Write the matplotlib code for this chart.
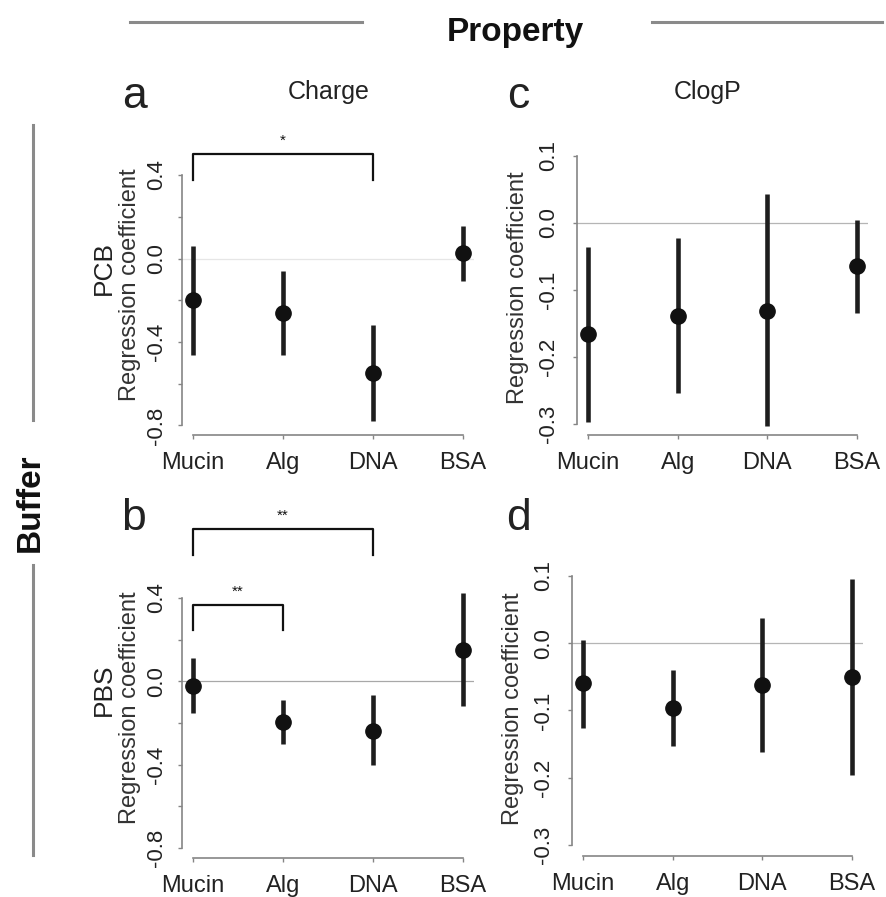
import matplotlib
matplotlib.use("Agg")
import matplotlib.pyplot as plt
import numpy as np

plt.rcParams['font.family'] = ['Liberation Sans', 'DejaVu Sans']
plt.rcParams['axes.unicode_minus'] = False

# ---------------- data ----------------
categories = ['Mucin', 'Alg', 'DNA', 'BSA']

charge_pcb_est = [-0.20, -0.26, -0.55, 0.026]
charge_pcb_lo = [-0.46, -0.46, -0.78, -0.11]
charge_pcb_hi = [0.06, -0.06, -0.32, 0.156]

clogp_pcb_est = [-0.165, -0.138, -0.131, -0.064]
clogp_pcb_lo = [-0.296, -0.253, -0.303, -0.134]
clogp_pcb_hi = [-0.036, -0.022, 0.043, 0.004]

charge_pbs_est = [-0.024, -0.195, -0.238, 0.151]
charge_pbs_lo = [-0.152, -0.30, -0.40, -0.12]
charge_pbs_hi = [0.114, -0.09, -0.067, 0.425]

clogp_pbs_est = [-0.059, -0.097, -0.062, -0.050]
clogp_pbs_lo = [-0.126, -0.152, -0.162, -0.196]
clogp_pbs_hi = [0.004, -0.040, 0.037, 0.095]

charge_ticks = [-0.8, -0.6, -0.4, -0.2, 0.0, 0.2, 0.4]
charge_ticklabels = ['-0.8', '', '-0.4', '', '0.0', '', '0.4']
clogp_ticks = [-0.3, -0.2, -0.1, 0.0, 0.1]
clogp_ticklabels = ['-0.3', '-0.2', '-0.1', '0.0', '0.1']

# brackets: (from index, to index, bar height, leg bottom, stars)
brackets_a = [(0, 2, 0.50, 0.376, '*')]
brackets_b = [(0, 1, 0.367, 0.248, '**'), (0, 2, 0.729, 0.605, '**')]

# ---------------- layout ----------------
W, H = 886, 897
fig = plt.figure(figsize=(W / 100, H / 100), dpi=100)


def rect(l, t, r, b):
    return [l / W, 1 - b / H, (r - l) / W, (b - t) / H]


def P(x, y):
    return (x / W, 1 - y / H)


AX_GREY = '#858585'
TXT = '#222222'


def panel(r, est, lo, hi, ticks, ticklabels, zero_col, ypad, brackets=()):
    ax = fig.add_axes(r)
    x = np.arange(1, len(categories) + 1)
    ax.set_xlim(0.88, 4.12)
    lo_t, hi_t = ticks[0], ticks[-1]
    rng = hi_t - lo_t
    ax.set_ylim(lo_t - 0.04 * rng, hi_t + 0.04 * rng)
    ax.axhline(0, color=zero_col, lw=0.9, zorder=1)
    est = np.array(est)
    yerr = np.vstack([est - np.array(lo), np.array(hi) - est])
    ax.errorbar(x, est, yerr=yerr, fmt='o', color='#111111', ecolor='#1e1e1e',
                elinewidth=3.3, markersize=11, capsize=0, zorder=3)
    for s in ['top', 'right']:
        ax.spines[s].set_visible(False)
    ax.spines['left'].set_bounds(lo_t, hi_t)
    ax.spines['bottom'].set_bounds(1, 4)
    for s in ['left', 'bottom']:
        ax.spines[s].set_color(AX_GREY)
        ax.spines[s].set_linewidth(1.2)
    ax.set_xticks(x)
    ax.set_xticklabels(categories, fontsize=17, color=TXT)
    ax.set_yticks(ticks)
    ax.set_yticklabels(ticklabels, fontsize=16, color=TXT, rotation=90,
                       va='center')
    ax.tick_params(axis='x', length=3, width=1, color=AX_GREY, pad=9)
    ax.tick_params(axis='y', length=3, width=1, color=AX_GREY, pad=ypad)
    for (i0, i1, hgt, leg, stars) in brackets:
        ax.plot([x[i0], x[i0], x[i1], x[i1]], [leg, hgt, hgt, leg],
                color='#111111', lw=1.6, clip_on=False, zorder=3)
        ax.text((x[i0] + x[i1]) / 2, hgt + 0.03, stars, ha='center',
                va='bottom', fontsize=11, color='#111111', clip_on=False)
    return ax


ax_a = panel(rect(182.2, 165, 473.8, 435.5), charge_pcb_est, charge_pcb_lo,
             charge_pcb_hi, charge_ticks, charge_ticklabels, '#e6e6e6', 8,
             brackets_a)
ax_c = panel(rect(577.2, 145, 867.8, 435), clogp_pcb_est, clogp_pcb_lo,
             clogp_pcb_hi, clogp_ticks, clogp_ticklabels, '#b5b5b5', 10)
ax_b = panel(rect(182.2, 588, 473.8, 858), charge_pbs_est, charge_pbs_lo,
             charge_pbs_hi, charge_ticks, charge_ticklabels, '#a8a8a8', 8,
             brackets_b)
ax_d = panel(rect(572.2, 565, 862.8, 856), clogp_pbs_est, clogp_pbs_lo,
             clogp_pbs_hi, clogp_ticks, clogp_ticklabels, '#b5b5b5', 10)

# y labels
for (xx, yy) in [(130, 285), (518, 288), (130, 708), (513, 709)]:
    fig.text(*P(xx, yy), 'Regression coefficient', rotation=90, ha='center',
             va='center', fontsize=17, color='#333333')

# panel letters
for (xx, yy, s) in [(135, 96, 'a'), (518, 96, 'c'), (134, 518, 'b'),
                    (519, 518, 'd')]:
    fig.text(*P(xx, yy), s, ha='center', va='center', fontsize=32, color=TXT)

# column titles
fig.text(*P(329, 92), 'Charge', ha='center', va='center', fontsize=18,
         color=TXT)
fig.text(*P(708, 92), 'ClogP', ha='center', va='center', fontsize=18,
         color=TXT)

# row titles
fig.text(*P(104, 268), 'PCB', rotation=90, ha='center', va='center',
         fontsize=19, color=TXT)
fig.text(*P(104, 690), 'PBS', rotation=90, ha='center', va='center',
         fontsize=19, color=TXT)

# Property header
fig.text(*P(515, 32), 'Property', ha='center', va='center', fontsize=24,
         fontweight='bold', color='#111111')
line_col = '#8a8a8a'
fig.add_artist(plt.Line2D([130 / W, 362 / W], [1 - 22 / H, 1 - 22 / H],
                          color=line_col, lw=2.2))
fig.add_artist(plt.Line2D([652 / W, 882 / W], [1 - 22 / H, 1 - 22 / H],
                          color=line_col, lw=2.2))

# Buffer side header
fig.text(*P(30, 503), 'Buffer', rotation=90, ha='center', va='center',
         fontsize=24, fontweight='bold', color='#111111')
fig.add_artist(plt.Line2D([33 / W, 33 / W], [1 - 125 / H, 1 - 420 / H],
                          color=line_col, lw=2.2))
fig.add_artist(plt.Line2D([33 / W, 33 / W], [1 - 565 / H, 1 - 855 / H],
                          color=line_col, lw=2.2))

fig.savefig('out.png', dpi=100, facecolor='white')
